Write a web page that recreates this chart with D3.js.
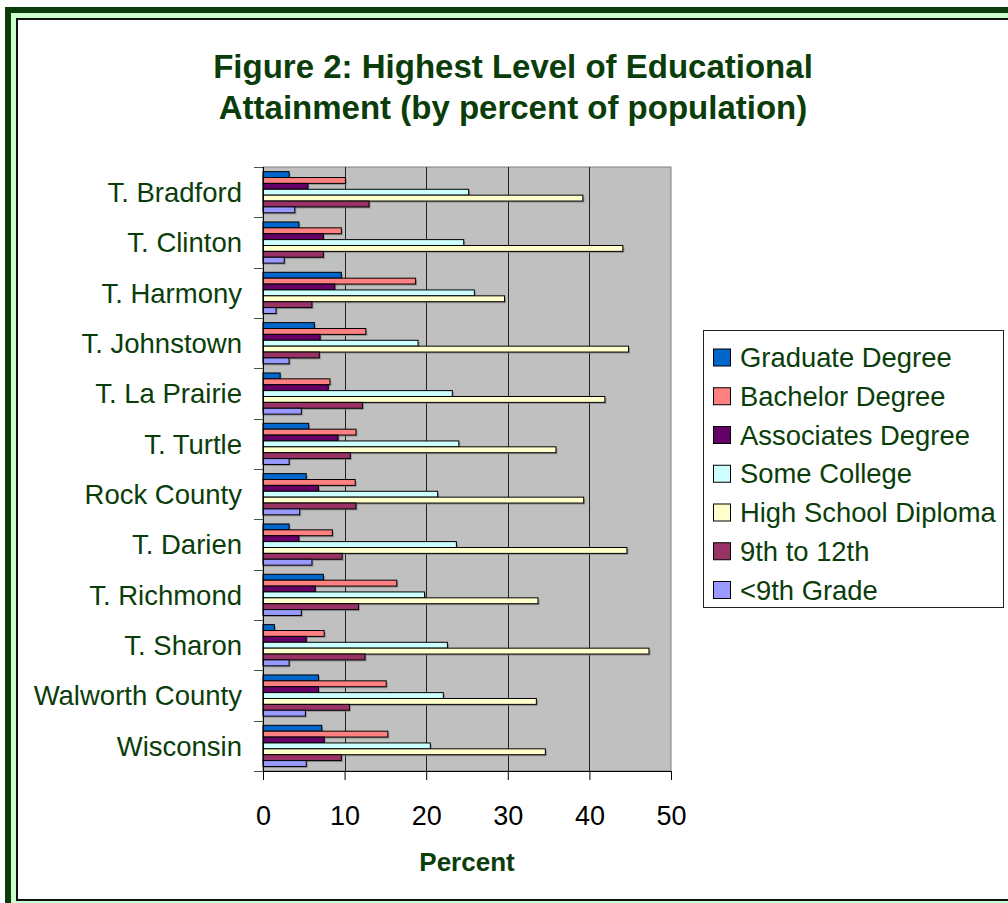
<!DOCTYPE html>
<html>
<head>
<meta charset="utf-8">
<script src="https://cdn.jsdelivr.net/npm/d3@7"></script>
<style>
  html, body { margin: 0; padding: 0; background: #fff; }
  svg { display: block; }
  text { font-family: "Liberation Sans", Arial, sans-serif; }
</style>
</head>
<body>
<svg id="chart" width="1008" height="903"></svg>
<script>
// ---- Data ----
const categories = ["T. Bradford", "T. Clinton", "T. Harmony", "T. Johnstown", "T. La Prairie",
  "T. Turtle", "Rock County", "T. Darien", "T. Richmond", "T. Sharon", "Walworth County", "Wisconsin"];

const seriesNames = ["Graduate Degree", "Bachelor Degree", "Associates Degree", "Some College",
  "High School Diploma", "9th to 12th", "<9th Grade"];

const graduateDegree    = [3.2, 4.4, 9.6, 6.3, 2.1, 5.6, 5.3, 3.2, 7.4, 1.4, 6.8, 7.2];
const bachelorDegree    = [10.1, 9.6, 18.7, 12.6, 8.2, 11.4, 11.3, 8.5, 16.4, 7.5, 15.1, 15.3];
const associatesDegree  = [5.5, 7.4, 8.8, 7.0, 8.0, 9.2, 6.8, 4.4, 6.4, 5.3, 6.8, 7.5];
const someCollege       = [25.2, 24.6, 25.9, 19.0, 23.2, 24.0, 21.4, 23.7, 19.8, 22.6, 22.1, 20.5];
const highSchoolDiploma = [39.2, 44.1, 29.6, 44.8, 41.9, 35.9, 39.3, 44.6, 33.7, 47.3, 33.5, 34.6];
const ninthTo12th       = [13.0, 7.4, 6.0, 6.9, 12.2, 10.7, 11.4, 9.7, 11.7, 12.5, 10.6, 9.6];
const below9th          = [3.9, 2.6, 1.6, 3.2, 4.7, 3.2, 4.5, 6.0, 4.7, 3.2, 5.2, 5.3];

const seriesColors = ["#0066cc", "#ff8080", "#660066", "#ccffff", "#ffffcc", "#993366", "#9999ff"];
const xTicks = [0, 10, 20, 30, 40, 50];

const titleLines = ["Figure 2: Highest Level of Educational", "Attainment (by percent of population)"];
const xAxisTitle = "Percent";

const seriesValues = [graduateDegree, bachelorDegree, associatesDegree, someCollege,
  highSchoolDiploma, ninthTo12th, below9th];

// ---- Drawing ----
const svg = d3.select("#chart");
const green = "#0b3d0b";

// Frame
svg.append("rect").attr("x", 5).attr("y", 7).attr("width", 1020).attr("height", 1000).attr("fill", "#0b3b0b");
svg.append("rect").attr("x", 11).attr("y", 13).attr("width", 1010).attr("height", 990).attr("fill", "#ccffcc");
svg.append("rect").attr("x", 17).attr("y", 19).attr("width", 1010).attr("height", 881)
  .attr("fill", "#fff").attr("stroke", "#111").attr("stroke-width", 2);

// Title
svg.append("g").selectAll("text").data(titleLines).join("text")
  .attr("x", 513).attr("y", (d, i) => 78 + i * 41)
  .attr("text-anchor", "middle")
  .attr("font-size", 33).attr("font-weight", "bold").attr("fill", green)
  .text(d => d);

// Plot area
const plot = { left: 263, right: 671, top: 167, bottom: 771 };
const x = d3.scaleLinear().domain([0, 50]).range([plot.left, plot.right]);
const y = d3.scaleBand().domain(categories).range([plot.top, plot.bottom]).paddingInner(0).paddingOuter(0);
const ySub = d3.scaleBand().domain(seriesNames).range([y.bandwidth() * 0.092, y.bandwidth() * 0.91]).padding(0);

svg.append("rect").attr("x", plot.left).attr("y", plot.top)
  .attr("width", plot.right - plot.left).attr("height", plot.bottom - plot.top)
  .attr("fill", "#c0c0c0").attr("stroke", "#808080").attr("stroke-width", 1);

// Gridlines
svg.append("g").selectAll("line").data(xTicks.filter(t => t > 0 && t < 50)).join("line")
  .attr("x1", d => Math.round(x(d)) + 0.5).attr("x2", d => Math.round(x(d)) + 0.5)
  .attr("y1", plot.top).attr("y2", plot.bottom)
  .attr("stroke", "#222").attr("stroke-width", 1);

// Bars
const rows = [];
categories.forEach((c, ci) => {
  seriesNames.forEach((s, si) => rows.push({ cat: c, series: s, si, value: seriesValues[si][ci] }));
});
const bars = svg.append("g");
bars.selectAll("rect.shadow").data(rows).join("rect").attr("class", "shadow")
  .attr("x", x(0) + 1.5).attr("y", d => y(d.cat) + ySub(d.series) + 1.5)
  .attr("width", d => x(d.value) - x(0)).attr("height", ySub.bandwidth())
  .attr("fill", "#7a7a7a").attr("opacity", 0.7);
bars.selectAll("rect.bar").data(rows).join("rect").attr("class", "bar")
  .attr("x", x(0)).attr("y", d => y(d.cat) + ySub(d.series))
  .attr("width", d => x(d.value) - x(0)).attr("height", ySub.bandwidth())
  .attr("fill", d => seriesColors[d.si]).attr("stroke", "#000").attr("stroke-width", 1);

// Left axis
const yAxis = svg.append("g");
yAxis.append("line").attr("x1", plot.left + 0.5).attr("x2", plot.left + 0.5)
  .attr("y1", plot.top).attr("y2", plot.bottom).attr("stroke", "#000");
const boundaries = categories.map(c => y(c)).concat([plot.bottom]);
yAxis.selectAll("line.tick").data(boundaries).join("line").attr("class", "tick")
  .attr("x1", plot.left - 9).attr("x2", plot.left)
  .attr("y1", d => Math.round(d) + 0.5).attr("y2", d => Math.round(d) + 0.5)
  .attr("stroke", "#3d5c3d").attr("stroke-width", 1);
yAxis.selectAll("text").data(categories).join("text")
  .attr("x", 242).attr("y", d => y(d) + y.bandwidth() / 2 + 9.8)
  .attr("text-anchor", "end").attr("font-size", 27.5).attr("fill", green)
  .text(d => d);

// Bottom axis
const xAxis = svg.append("g").attr("transform", `translate(0,${plot.bottom})`)
  .call(d3.axisBottom(x).tickValues(xTicks).tickSize(9).tickPadding(26).tickFormat(d3.format("d")));
xAxis.select(".domain").attr("stroke", "#000");
xAxis.selectAll(".tick line").attr("stroke", "#000");
xAxis.selectAll(".tick text").attr("font-size", 27).attr("fill", "#000")
  .attr("font-family", "'Liberation Sans', Arial, sans-serif");

svg.append("text").attr("x", (plot.left + plot.right) / 2).attr("y", 871)
  .attr("text-anchor", "middle").attr("font-size", 26).attr("font-weight", "bold")
  .attr("fill", green).text(xAxisTitle);

// Legend
const legend = svg.append("g");
legend.append("rect").attr("x", 703.5).attr("y", 330.5).attr("width", 300).attr("height", 277)
  .attr("fill", "#fff").attr("stroke", "#222").attr("stroke-width", 1);
const legY = d3.scalePoint().domain(seriesNames).range([357.5, 590]);
const items = legend.selectAll("g.item").data(seriesNames).join("g").attr("class", "item");
items.append("rect").attr("x", 713.5).attr("y", d => legY(d) - 8.5)
  .attr("width", 17).attr("height", 17)
  .attr("fill", (d, i) => seriesColors[i]).attr("stroke", "#000").attr("stroke-width", 1);
items.append("text").attr("x", 740).attr("y", d => legY(d) + 9.7)
  .attr("font-size", 27.4).attr("fill", green).text(d => d);
</script>
</body>
</html>
